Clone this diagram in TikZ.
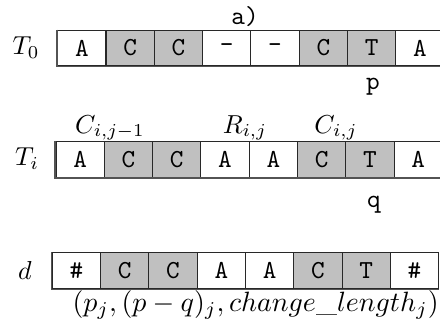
\documentclass[tikz,border=0pt]{standalone}
\usepackage{tikz}
\usepackage{graphicx}
\definecolor{cellgray}{RGB}{192,192,192}
\definecolor{edge}{RGB}{40,40,40}
\tikzset{
  cell/.style={draw=edge, line width=0.4pt, minimum width=18.6pt, minimum height=13.7pt, inner sep=0pt, font=\ttfamily, anchor=center},
  gcell/.style={cell, fill=cellgray},
  wcell/.style={cell, fill=white},
  lbl/.style={inner sep=0pt},
  shadowline/.style={draw=edge!80, line width=0.6pt},
}
\begin{document}
\begin{tikzpicture}[x=0.385pt, y=-0.385pt]
\useasboundingbox (0,0) rectangle (440,326);
% row labels
\node[lbl] (a) at (245,17) {\texttt{a)}};
\node[lbl] (L0) at (26,48) {$T_0$};
\node[lbl] (Li) at (27,159) {$T_i$};
\node[lbl] (Ld) at (25,270) {$d$};
% row 1
\foreach \t [count=\k from 0] in {A,C,C,-,-,C,T,A}{
  \pgfmathtruncatemacro{\g}{(\k==1||\k==2||\k==5||\k==6)?1:0}
  \ifnum\g=1 \node[gcell] (r1c\k) at (81.85+48.3*\k,48) {\t};
  \else \node[wcell] (r1c\k) at (81.85+48.3*\k,48) {\t}; \fi
}
% row 2
\foreach \t [count=\k from 0] in {A,C,C,A,A,C,T,A}{
  \pgfmathtruncatemacro{\g}{(\k==1||\k==2||\k==5||\k==6)?1:0}
  \ifnum\g=1 \node[gcell] (r2c\k) at (80.15+48.3*\k,159.3) {\t};
  \else \node[wcell] (r2c\k) at (80.15+48.3*\k,159.3) {\t}; \fi
}
% row 3
\foreach \t [count=\k from 0] in {\#,C,C,A,A,C,T,\#}{
  \pgfmathtruncatemacro{\g}{(\k==1||\k==2||\k==5||\k==6)?1:0}
  \ifnum\g=1 \node[gcell] (r3c\k) at (76.45+48.3*\k,270.7) {\t};
  \else \node[wcell] (r3c\k) at (76.45+48.3*\k,270.7) {\t}; \fi
}
% slightly heavier left and bottom edges
\foreach \r in {1,2,3}{
  \draw[shadowline] ([xshift=-0.1pt]r\r c0.north west) -- ([xshift=-0.1pt,yshift=-0.1pt]r\r c0.south west) -- ([yshift=-0.1pt]r\r c7.south east);
}
% pointers and labels
\node[lbl, anchor=base] (p) at (373,89) {\texttt{p}};
\node[lbl, anchor=base] (q) at (374,207) {\texttt{q}};
\node[lbl, anchor=base] (C1) at (110,133) {$C_{i,j-1}$};
\node[lbl, anchor=base] (R) at (245,133) {$R_{i,j}$};
\node[lbl, anchor=base] (C2) at (336,133) {$C_{i,j}$};
\node[lbl, anchor=base west] (dl) at (72,311) {\resizebox{141pt}{!}{$(p_j,(p-q)_j,change\_length_j)$}};
\end{tikzpicture}
\end{document}
